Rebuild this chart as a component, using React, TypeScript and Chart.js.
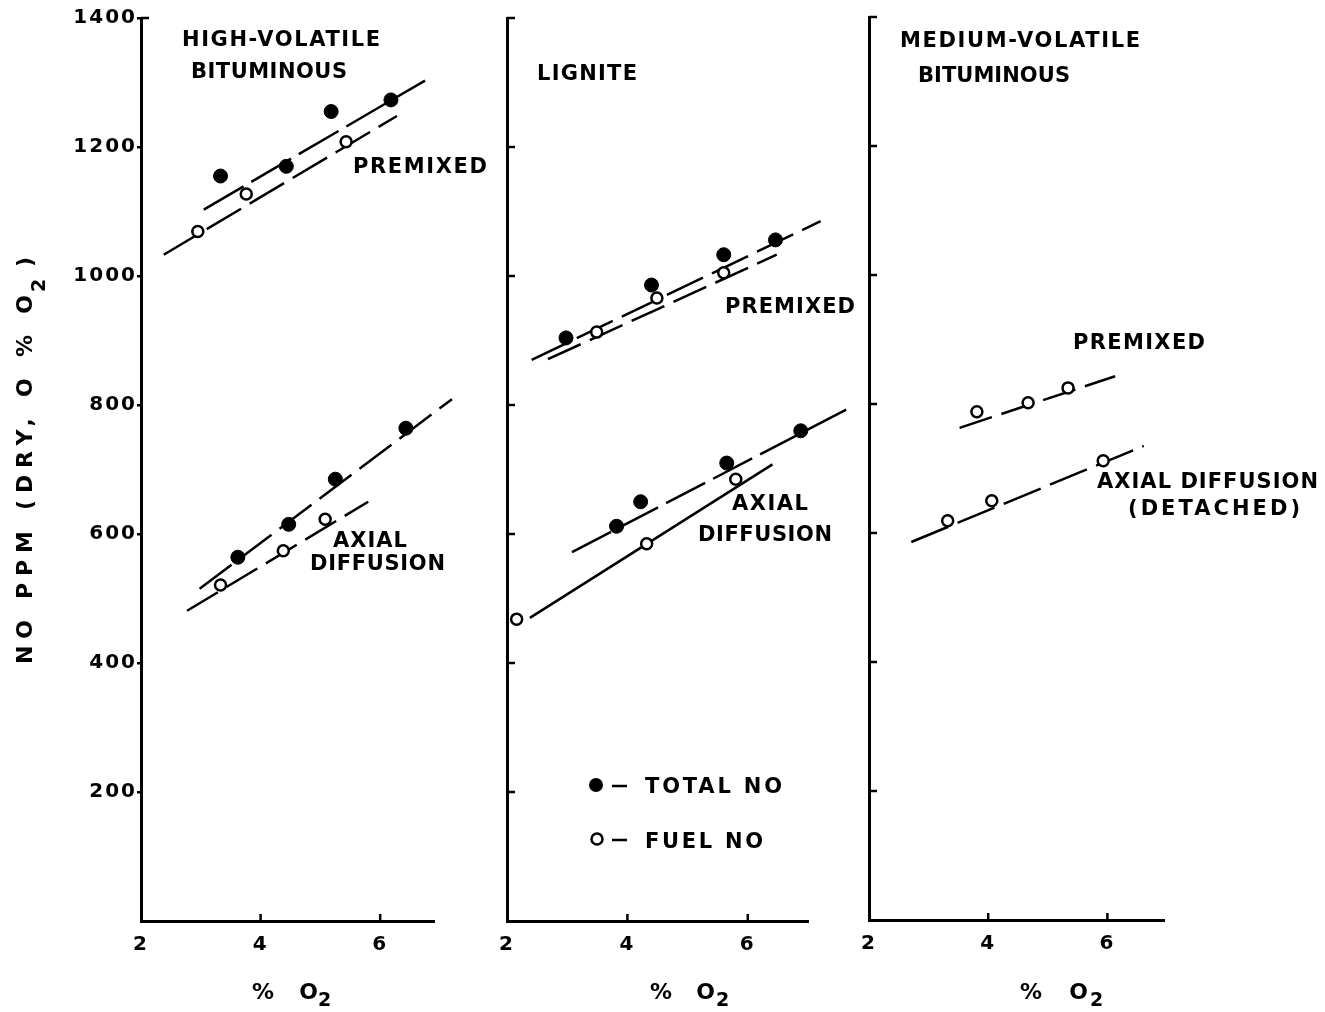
import React, { useEffect, useRef } from "react";
import { Chart, registerables } from "chart.js";

Chart.register(...registerables);

// ---------- axis ticks ----------
const X_TICKS = [2, 4, 6];
const Y_TICKS = [200, 400, 600, 800, 1000, 1200, 1400];

// ---------- Panel 1: high-volatile bituminous ----------
const HVB_PRE_TOTAL_X = [3.33, 4.43, 5.18, 6.18];
const HVB_PRE_TOTAL_Y = [1155, 1170, 1255, 1273];
const HVB_PRE_FUEL_X = [2.95, 3.76, 5.43];
const HVB_PRE_FUEL_Y = [1069, 1127, 1208];
const HVB_AX_TOTAL_X = [3.62, 4.47, 5.25, 6.43];
const HVB_AX_TOTAL_Y = [564, 615, 685, 764];
const HVB_AX_FUEL_X = [3.33, 4.38, 5.08];
const HVB_AX_FUEL_Y = [521, 574, 623];
// fitted lines (end points)
const HVB_PRE_TOTAL_FIT_X = [3.05, 6.75];
const HVB_PRE_TOTAL_FIT_Y = [1103, 1303];
const HVB_PRE_FUEL_FIT_X = [2.38, 6.28];
const HVB_PRE_FUEL_FIT_Y = [1033, 1248];
const HVB_AX_TOTAL_FIT_X = [2.98, 7.2];
const HVB_AX_TOTAL_FIT_Y = [515, 809];
const HVB_AX_FUEL_FIT_X = [2.77, 5.8];
const HVB_AX_FUEL_FIT_Y = [481, 650];

// ---------- Panel 2: lignite ----------
const LIG_PRE_TOTAL_X = [2.98, 4.4, 5.6, 6.46];
const LIG_PRE_TOTAL_Y = [904, 986, 1033, 1056];
const LIG_PRE_FUEL_X = [3.49, 4.49, 5.6];
const LIG_PRE_FUEL_Y = [913, 966, 1005];
const LIG_AX_TOTAL_X = [3.82, 4.22, 5.65, 6.88];
const LIG_AX_TOTAL_Y = [612, 650, 710, 760];
const LIG_AX_FUEL_X = [2.16, 4.32, 5.8];
const LIG_AX_FUEL_Y = [468, 585, 685];
const LIG_PRE_TOTAL_FIT_X = [2.41, 7.21];
const LIG_PRE_TOTAL_FIT_Y = [870, 1085];
const LIG_PRE_FUEL_FIT_X = [2.68, 6.48];
const LIG_PRE_FUEL_FIT_Y = [871, 1033];
const LIG_AX_TOTAL_FIT_X = [3.08, 7.74];
const LIG_AX_TOTAL_FIT_Y = [572, 798];
const LIG_AX_FUEL_FIT_X = [2.38, 6.41];
const LIG_AX_FUEL_FIT_Y = [470, 708];

// ---------- Panel 3: medium-volatile bituminous ----------
const MVB_PRE_FUEL_X = [3.81, 4.67, 5.34];
const MVB_PRE_FUEL_Y = [788, 802, 825];
const MVB_AX_FUEL_X = [3.32, 4.06, 5.93];
const MVB_AX_FUEL_Y = [619, 650, 712];
const MVB_PRE_FIT_X = [3.52, 6.13];
const MVB_PRE_FIT_Y = [763, 843];
const MVB_AX_FIT_X = [2.71, 6.61];
const MVB_AX_FIT_Y = [586, 735];

// ---------- styling ----------
const FONT = '"DejaVu Sans", "Liberation Sans", sans-serif';
const INK = "#000";
const W = 1325;
const H = 1012;

function pts(xs: number[], ys: number[]) {
  return xs.map((x, i) => ({ x, y: ys[i] }));
}

function spacedText(ctx: any, t: string, x: number, y: number, w: number, size: number) {
  ctx.font = `bold ${size}px ${FONT}`;
  ctx.letterSpacing = "0px";
  const w0 = ctx.measureText(t).width;
  const n = Array.from(t).length;
  const sp = n > 1 ? (w - w0) / (n - 1) : 0;
  ctx.letterSpacing = `${sp}px`;
  ctx.fillText(t, x, y);
  ctx.letterSpacing = "0px";
}

const decoPlugin = {
  id: "deco",
  beforeDraw(chart: any) {
    chart.ctx.letterSpacing = "2px";
  },
  afterDraw(chart: any, _args: any, opts: any) {
    const ctx = chart.ctx;
    const xs = chart.scales.x;
    const ys = chart.scales.y;
    ctx.save();
    ctx.letterSpacing = "0px";
    ctx.strokeStyle = INK;
    ctx.fillStyle = INK;
    ctx.lineWidth = 2.5;
    // inward ticks
    for (const v of opts.yInTicks || []) {
      const py = ys.getPixelForValue(v);
      ctx.beginPath();
      ctx.moveTo(xs.left, py);
      ctx.lineTo(xs.left + 8, py);
      ctx.stroke();
    }
    for (const v of opts.xInTicks || []) {
      const px = xs.getPixelForValue(v);
      ctx.beginPath();
      ctx.moveTo(px, ys.bottom);
      ctx.lineTo(px, ys.bottom - 7);
      ctx.stroke();
    }
    ctx.textAlign = "left";
    ctx.textBaseline = "alphabetic";
    for (const t of opts.texts || []) {
      spacedText(ctx, t.t, t.x, t.y, t.w, t.size || 21);
    }
    // x-axis title "% O2"
    const xt = opts.xTitle;
    if (xt) {
      spacedText(ctx, "% O", xt.x, xt.y, xt.w, 22);
      spacedText(ctx, "2", xt.subX, xt.y + 7, 14, 19);
    }
    // y-axis title
    if (opts.yTitle) {
      ctx.save();
      ctx.translate(32, 664);
      ctx.rotate(-Math.PI / 2);
      spacedText(ctx, "NO PPM (DRY, O % O", 0, 0, 369, 22);
      spacedText(ctx, "2", 372, 13, 14, 19);
      spacedText(ctx, ")", 397, 0, 8, 22);
      ctx.restore();
    }
    // legend
    if (opts.legend) {
      const lg = opts.legend;
      ctx.lineWidth = 2.5;
      ctx.beginPath();
      ctx.arc(lg.x, lg.y1, 7, 0, Math.PI * 2);
      ctx.fill();
      ctx.beginPath();
      ctx.arc(lg.x + 1, lg.y2, 5.5, 0, Math.PI * 2);
      ctx.fillStyle = "#fff";
      ctx.fill();
      ctx.stroke();
      ctx.fillStyle = INK;
      ctx.beginPath();
      ctx.moveTo(lg.x + 16, lg.y1 + 1);
      ctx.lineTo(lg.x + 31, lg.y1 + 1);
      ctx.moveTo(lg.x + 16, lg.y2 + 1);
      ctx.lineTo(lg.x + 31, lg.y2 + 1);
      ctx.stroke();
      spacedText(ctx, "TOTAL NO", lg.tx, lg.y1 + 8, 137, 21);
      spacedText(ctx, "FUEL NO", lg.tx, lg.y2 + 9, 118, 21);
    }
    ctx.restore();
  },
};

type Series = { x: number[]; y: number[]; filled: boolean };
type Fit = { x: number[]; y: number[]; dash: number[] };

function buildConfig(cfg: any): any {
  const datasets: any[] = [];
  cfg.series.forEach((s: Series) => {
    datasets.push({
      data: pts(s.x, s.y),
      showLine: false,
      pointRadius: s.filled ? 7 : 5.5,
      pointBackgroundColor: s.filled ? INK : "#fff",
      pointBorderColor: INK,
      pointBorderWidth: s.filled ? 1 : 2.5,
      order: 0,
      clip: false,
    });
  });
  cfg.fits.forEach((f: Fit) => {
    datasets.push({
      data: pts(f.x, f.y),
      showLine: true,
      pointRadius: 0,
      borderColor: INK,
      borderWidth: 2.5,
      borderDash: f.dash,
      order: 1,
      clip: false,
    });
  });
  const yWidth = cfg.yLabels ? cfg.left : 10;
  return {
    type: "scatter",
    data: { datasets },
    options: {
      animation: false,
      responsive: false,
      devicePixelRatio: 1,
      events: [],
      layout: {
        padding: {
          left: cfg.left - yWidth,
          right: W - cfg.right,
          top: cfg.top,
          bottom: 0,
        },
      },
      plugins: {
        legend: { display: false },
        tooltip: { enabled: false },
        deco: {
          yInTicks: cfg.yInTicks,
          xInTicks: [4, 6],
          texts: cfg.texts,
          xTitle: cfg.xTitle,
          yTitle: cfg.yTitle,
          legend: cfg.legend,
        },
      },
      scales: {
        x: {
          type: "linear",
          min: 2,
          max: cfg.xMax,
          afterFit: (s: any) => {
            s.height = H - cfg.bottom;
          },
          afterBuildTicks: (s: any) => {
            s.ticks = X_TICKS.map((v) => ({ value: v }));
          },
          border: { display: true, color: INK, width: 3 },
          grid: { display: true, drawOnChartArea: false, drawTicks: false },
          ticks: {
            color: INK,
            padding: 12,
            font: { family: FONT, size: 20, weight: "bold" },
            callback: (v: any) => String(v),
          },
        },
        y: {
          type: "linear",
          min: 0,
          max: 1400,
          afterFit: (s: any) => {
            s.width = yWidth;
          },
          afterBuildTicks: (s: any) => {
            s.ticks = Y_TICKS.map((v) => ({ value: v }));
          },
          border: { display: true, color: INK, width: 3 },
          grid: {
            display: true,
            drawOnChartArea: false,
            drawTicks: !!cfg.yLabels,
            tickLength: 4,
            color: INK,
            lineWidth: 2.5,
          },
          ticks: {
            display: !!cfg.yLabels,
            color: INK,
            padding: 0,
            font: { family: FONT, size: 20, weight: "bold" },
            callback: (v: any) => String(v),
          },
        },
      },
    },
    plugins: [decoPlugin],
  };
}

const PANELS: any[] = [
  {
    left: 141,
    right: 434,
    top: 18,
    bottom: 921,
    xMax: 6.9,
    yLabels: true,
    yInTicks: [1400],
    yTitle: true,
    series: [
      { x: HVB_PRE_TOTAL_X, y: HVB_PRE_TOTAL_Y, filled: true },
      { x: HVB_PRE_FUEL_X, y: HVB_PRE_FUEL_Y, filled: false },
      { x: HVB_AX_TOTAL_X, y: HVB_AX_TOTAL_Y, filled: true },
      { x: HVB_AX_FUEL_X, y: HVB_AX_FUEL_Y, filled: false },
    ],
    fits: [
      { x: HVB_PRE_TOTAL_FIT_X, y: HVB_PRE_TOTAL_FIT_Y, dash: [46, 9] },
      { x: HVB_PRE_FUEL_FIT_X, y: HVB_PRE_FUEL_FIT_Y, dash: [40, 10] },
      { x: HVB_AX_TOTAL_FIT_X, y: HVB_AX_TOTAL_FIT_Y, dash: [40, 10] },
      { x: HVB_AX_FUEL_FIT_X, y: HVB_AX_FUEL_FIT_Y, dash: [36, 10] },
    ],
    texts: [
      { t: "HIGH-VOLATILE", x: 182, y: 46, w: 198 },
      { t: "BITUMINOUS", x: 191, y: 78, w: 156 },
      { t: "PREMIXED", x: 353, y: 173, w: 134 },
      { t: "AXIAL", x: 333, y: 547, w: 74 },
      { t: "DIFFUSION", x: 310, y: 570, w: 135 },
    ],
    xTitle: { x: 252, y: 999, w: 66, subX: 318 },
  },
  {
    left: 507,
    right: 808,
    top: 18,
    bottom: 921,
    xMax: 7.0,
    yLabels: false,
    yInTicks: Y_TICKS,
    series: [
      { x: LIG_PRE_TOTAL_X, y: LIG_PRE_TOTAL_Y, filled: true },
      { x: LIG_PRE_FUEL_X, y: LIG_PRE_FUEL_Y, filled: false },
      { x: LIG_AX_TOTAL_X, y: LIG_AX_TOTAL_Y, filled: true },
      { x: LIG_AX_FUEL_X, y: LIG_AX_FUEL_Y, filled: false },
    ],
    fits: [
      { x: LIG_PRE_TOTAL_FIT_X, y: LIG_PRE_TOTAL_FIT_Y, dash: [40, 10] },
      { x: LIG_PRE_FUEL_FIT_X, y: LIG_PRE_FUEL_FIT_Y, dash: [36, 10] },
      { x: LIG_AX_TOTAL_FIT_X, y: LIG_AX_TOTAL_FIT_Y, dash: [44, 9] },
      { x: LIG_AX_FUEL_FIT_X, y: LIG_AX_FUEL_FIT_Y, dash: [] },
    ],
    texts: [
      { t: "LIGNITE", x: 537, y: 80, w: 100 },
      { t: "PREMIXED", x: 725, y: 313, w: 130 },
      { t: "AXIAL", x: 732, y: 510, w: 76 },
      { t: "DIFFUSION", x: 698, y: 541, w: 134 },
    ],
    legend: { x: 596, y1: 785, y2: 839, tx: 645 },
    xTitle: { x: 650, y: 999, w: 65, subX: 716 },
  },
  {
    left: 869,
    right: 1164,
    top: 17,
    bottom: 920,
    xMax: 6.95,
    yLabels: false,
    yInTicks: Y_TICKS,
    series: [
      { x: MVB_PRE_FUEL_X, y: MVB_PRE_FUEL_Y, filled: false },
      { x: MVB_AX_FUEL_X, y: MVB_AX_FUEL_Y, filled: false },
    ],
    fits: [
      { x: MVB_PRE_FIT_X, y: MVB_PRE_FIT_Y, dash: [34, 10] },
      { x: MVB_AX_FIT_X, y: MVB_AX_FIT_Y, dash: [40, 10] },
    ],
    texts: [
      { t: "MEDIUM-VOLATILE", x: 900, y: 47, w: 240 },
      { t: "BITUMINOUS", x: 918, y: 82, w: 152 },
      { t: "PREMIXED", x: 1073, y: 349, w: 132 },
      { t: "AXIAL DIFFUSION", x: 1097, y: 488, w: 221 },
      { t: "(DETACHED)", x: 1128, y: 515, w: 172 },
    ],
    xTitle: { x: 1020, y: 999, w: 68, subX: 1090 },
  },
];

function Panel({ cfg }: { cfg: any }) {
  const ref = useRef<HTMLCanvasElement | null>(null);
  useEffect(() => {
    if (!ref.current) return;
    const chart = new Chart(ref.current, buildConfig(cfg));
    return () => chart.destroy();
  }, [cfg]);
  return (
    <canvas
      ref={ref}
      width={W}
      height={H}
      style={{ position: "absolute", left: 0, top: 0, width: W, height: H }}
    />
  );
}

export default function App() {
  return (
    <div
      style={{
        position: "absolute",
        left: 0,
        top: 0,
        width: W,
        height: H,
        background: "#fff",
        overflow: "hidden",
      }}
    >
      {PANELS.map((p, i) => (
        <Panel key={i} cfg={p} />
      ))}
    </div>
  );
}
